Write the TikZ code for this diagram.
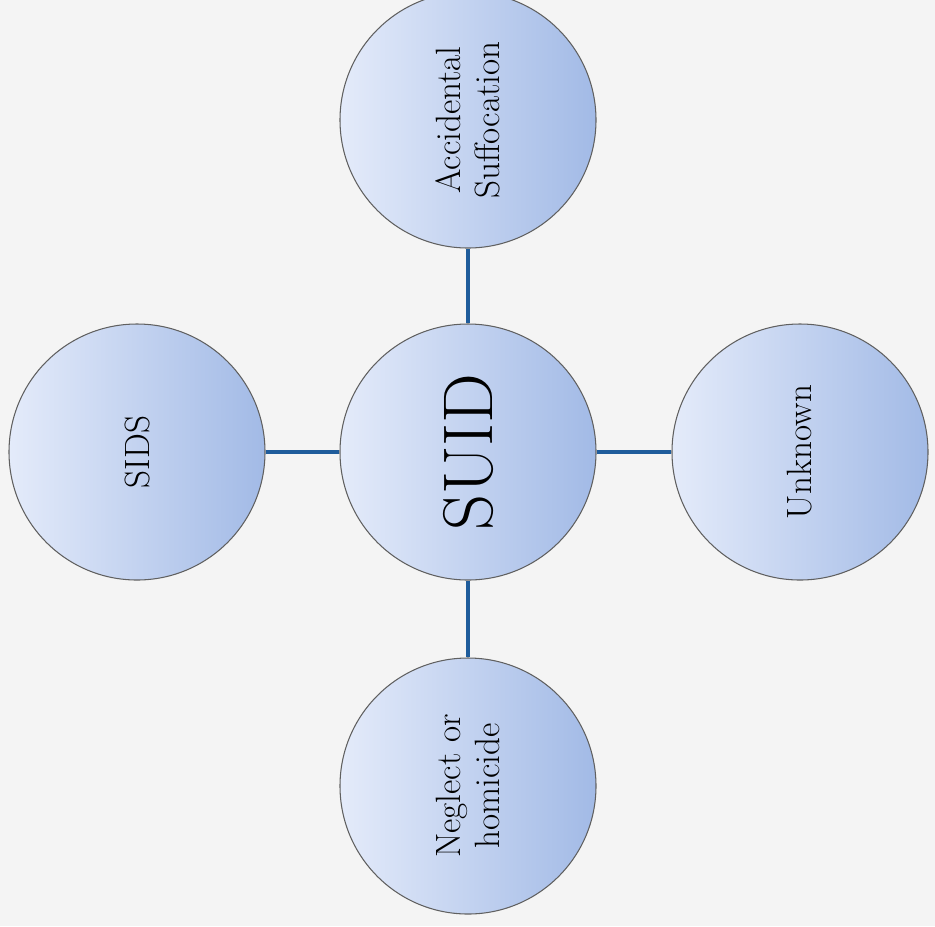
\documentclass[tikz,border=0pt]{standalone}
\usetikzlibrary{positioning}
\definecolor{bubbleL}{HTML}{E4EBFA}
\definecolor{bubbleD}{HTML}{A2BAE6}
\definecolor{linkblue}{HTML}{1F5C9B}
\definecolor{paper}{HTML}{F4F4F4}
\begin{document}
\begin{tikzpicture}[every node/.style={draw=gray!75!black, line width=0.6pt, circle, minimum size=5.12cm, inner sep=0pt, left color=bubbleL, right color=bubbleD, rotate=90, align=center, font=\fontsize{20}{22}\selectfont}, link/.style={draw=linkblue, line width=2.8pt}]
            \fill[paper] (0,0) rectangle (18.7,-18.52);
            \useasboundingbox (0,0) rectangle (18.7,-18.52);
            \node (suid) at (9.36,-9.04) {\fontsize{40}{44}\selectfont SUID};
            \node (acc) at (9.36,-2.40) {Accidental\\Suffocation};
            \node (sids) at (2.74,-9.04) {SIDS};
            \node (unk) at (16.00,-9.04) {Unknown};
            \node (neg) at (9.36,-15.72) {Neglect or\\homicide};
            
            \draw[link] (suid) -- (acc);
            \draw[link] (suid) -- (sids);
            \draw[link] (suid) -- (unk);
            \draw[link] (suid) -- (neg);
            \end{tikzpicture}
\end{document}
